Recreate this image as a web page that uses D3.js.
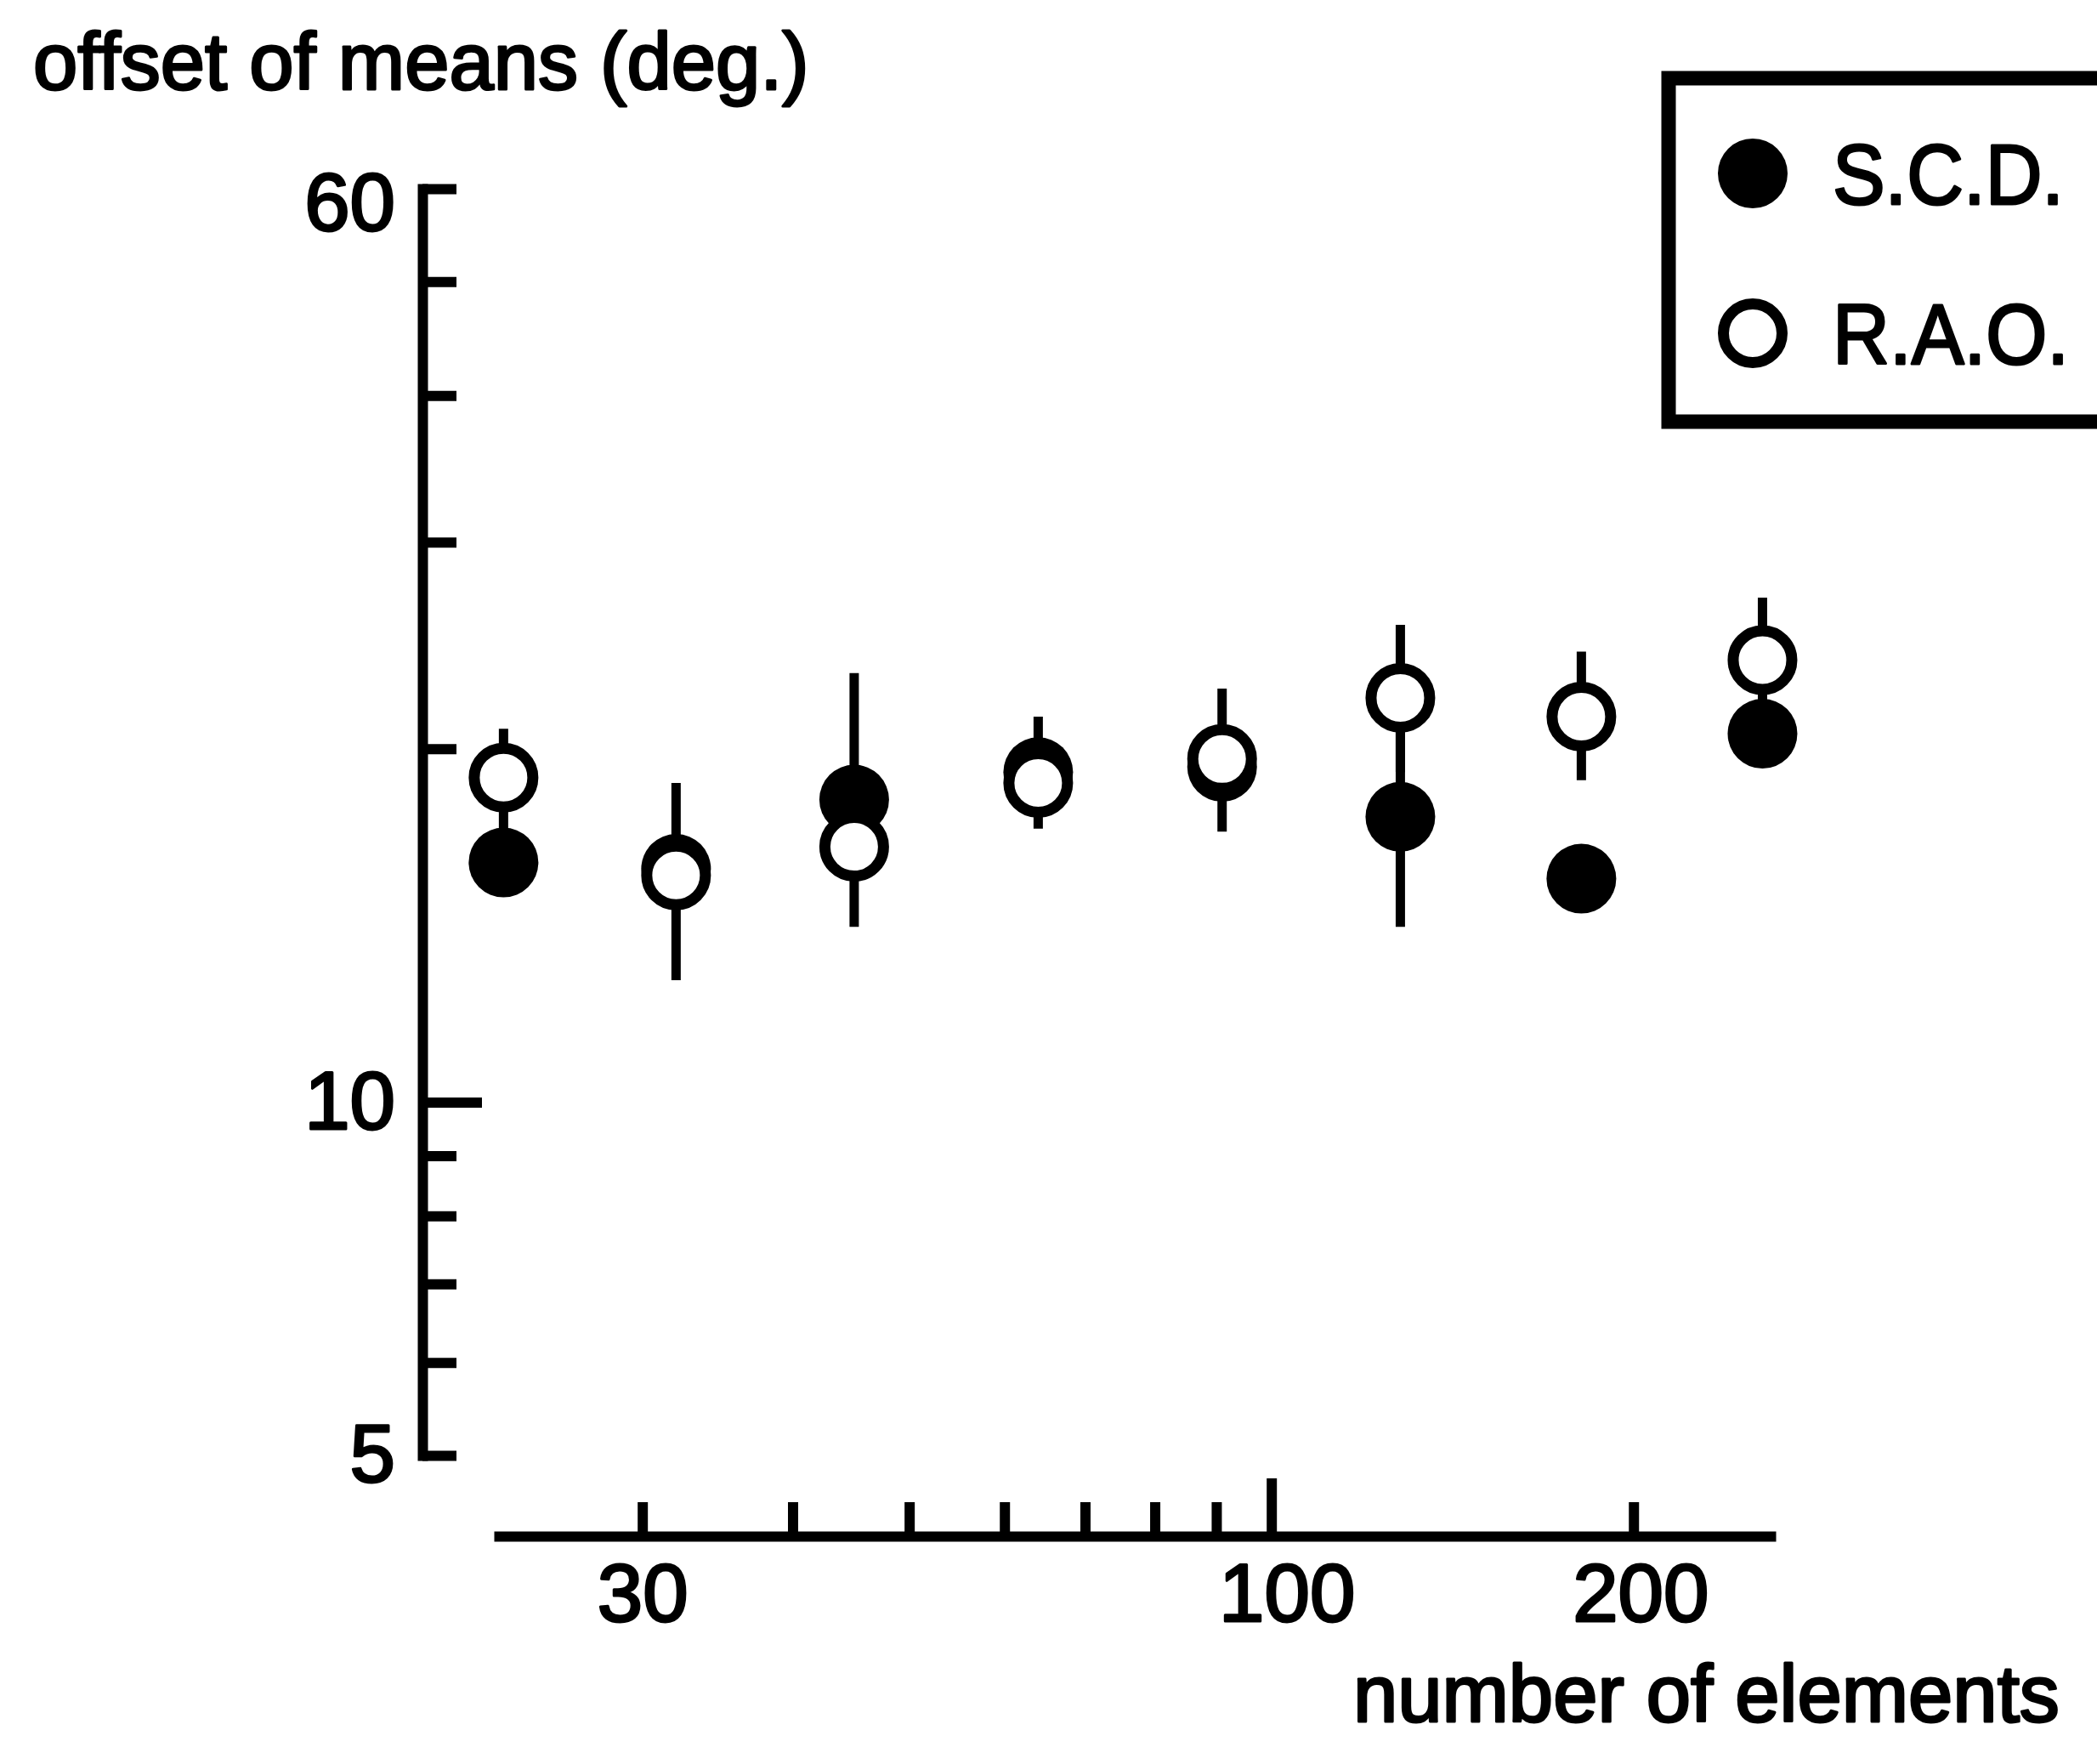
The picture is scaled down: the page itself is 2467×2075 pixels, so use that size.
<!DOCTYPE html>
<html lang="en">
<head>
    <meta charset="utf-8">
    <title>offset of means</title>
    <script src="https://d3js.org/d3.v7.min.js" charset="utf-8"></script>
    <style type="text/css">
        body { margin: 0; background: #fff; }
        svg text {
            font-family: "Liberation Sans", Arial, Helvetica, sans-serif;
            fill: #000;
            stroke: #000;
            stroke-width: 3px;
            stroke-linejoin: round;
        }
        .axis path, .axis line { stroke: #000; stroke-width: 12; }
        .axis path { stroke-linecap: square; }
        .bar { stroke: #000; stroke-width: 11; }
    </style>
</head>
<body>
    <script type="text/javascript">
    // number of elements (x) and offset of means in degrees (y)
    var elements = [23, 32, 45, 64, 91, 128, 181, 256];

    var scdMean = [16.0, 15.8, 18.1, 19.1, 19.3, 17.5, 15.5, 20.6];
    var scdLow  = [null, null, 14.1, 17.1, null, 14.1, null, null];
    var scdHigh = [null, null, 23.2, 21.3, null, 21.8, null, null];

    var raoMean = [18.9, 15.6, 16.5, 18.7, 19.6, 22.1, 21.3, 23.8];
    var raoLow  = [17.1, 12.7, null, null, 17.0, 19.1, 18.8, 21.1];
    var raoHigh = [20.8, 18.7, null, null, 22.5, 25.5, 24.2, 26.9];

    var xTicks = [30, 40, 50, 60, 70, 80, 90, 100, 200];
    var xLabels = [30, 100, 200];
    var yTicks = [5, 6, 7, 8, 9, 10, 20, 30, 40, 50, 60];
    var yLabels = [5, 10, 60];
    var majorTicks = [10, 100];

    var seriesNames = ["S.C.D.", "R.A.O."];
    var yTitle = "offset of means (deg.)";
    var xTitle = "number of elements";

    var width = 2467,
        height = 2075,
        fontSize = 96,
        titleSize = 94,
        r = 41;

    var svg = d3.select("body").append("svg")
        .attr("width", width)
        .attr("height", height);

    var x = d3.scaleLog().domain([22.8, 260]).range([587, 2083]);
    var y = d3.scaleLog().domain([5, 60]).range([1712, 222]);

    // x axis, ticks pointing up
    var xAxis = svg.append("g")
        .attr("class", "axis")
        .attr("transform", "translate(0,1807)")
        .call(d3.axisBottom(x)
            .tickValues(xTicks)
            .tickSizeInner(-40)
            .tickSizeOuter(0)
            .tickPadding(32)
            .tickFormat(function (d) { return xLabels.indexOf(d) >= 0 ? d : ""; }));
    xAxis.attr("font-size", fontSize);
    xAxis.selectAll(".tick line")
        .filter(function (d) { return majorTicks.indexOf(d) >= 0; })
        .attr("y2", -68);
    // the printed labels sit a little right of their ticks
    xAxis.selectAll(".tick text")
        .attr("dx", function (d) { return d === 100 ? 18 : (d === 200 ? 8 : 0); });

    // y axis, ticks pointing right
    var yAxis = svg.append("g")
        .attr("class", "axis")
        .attr("transform", "translate(497,0)")
        .call(d3.axisLeft(y)
            .tickValues(yTicks)
            .tickSizeInner(-40)
            .tickSizeOuter(0)
            .tickPadding(32)
            .tickFormat(function (d) { return yLabels.indexOf(d) >= 0 ? d : ""; }));
    yAxis.attr("font-size", fontSize);
    yAxis.selectAll(".tick line")
        .filter(function (d) { return majorTicks.indexOf(d) >= 0; })
        .attr("x2", 70);
    yAxis.selectAll(".tick text")
        .filter(function (d) { return d === 60; })
        .attr("dy", "0.5em");

    // error bars
    var bars = [];
    elements.forEach(function (n, i) {
        if (scdLow[i] != null) bars.push({ n: n, lo: scdLow[i], hi: scdHigh[i] });
        if (raoLow[i] != null) bars.push({ n: n, lo: raoLow[i], hi: raoHigh[i] });
    });
    svg.selectAll(".bar")
        .data(bars)
        .enter()
        .append("line")
        .attr("class", "bar")
        .attr("x1", function (d) { return x(d.n); })
        .attr("x2", function (d) { return x(d.n); })
        .attr("y1", function (d) { return y(d.hi); })
        .attr("y2", function (d) { return y(d.lo); });

    // S.C.D. filled, R.A.O. open on top
    svg.selectAll(".scd")
        .data(elements)
        .enter()
        .append("circle")
        .attr("class", "scd")
        .attr("cx", function (d) { return x(d); })
        .attr("cy", function (d, i) { return y(scdMean[i]); })
        .attr("r", r)
        .attr("fill", "#000");

    svg.selectAll(".rao")
        .data(elements)
        .enter()
        .append("circle")
        .attr("class", "rao")
        .attr("cx", function (d) { return x(d); })
        .attr("cy", function (d, i) { return y(raoMean[i]); })
        .attr("r", r - 6.5)
        .attr("fill", "#fff")
        .attr("stroke", "#000")
        .attr("stroke-width", 13);

    // axis titles
    svg.append("text")
        .attr("x", 39)
        .attr("y", 105)
        .attr("font-size", titleSize)
        .text(yTitle);

    svg.append("text")
        .attr("x", 1592)
        .attr("y", 2025)
        .attr("font-size", titleSize)
        .text(xTitle);

    // legend (box runs off the right edge)
    var legend = svg.append("g");
    legend.append("rect")
        .attr("x", 1963)
        .attr("y", 92)
        .attr("width", 700)
        .attr("height", 404)
        .attr("fill", "#fff")
        .attr("stroke", "#000")
        .attr("stroke-width", 17);

    var row = d3.scalePoint().domain(seriesNames).range([204, 392]);

    legend.selectAll(".key")
        .data(seriesNames)
        .enter()
        .append("circle")
        .attr("cx", 2062)
        .attr("cy", function (d) { return row(d); })
        .attr("r", function (d, i) { return i === 0 ? r : r - 6.5; })
        .attr("fill", function (d, i) { return i === 0 ? "#000" : "#fff"; })
        .attr("stroke", "#000")
        .attr("stroke-width", function (d, i) { return i === 0 ? 0 : 13; });

    legend.selectAll(".name")
        .data(seriesNames)
        .enter()
        .append("text")
        .attr("x", 2156)
        .attr("y", function (d) { return row(d); })
        .attr("dy", "0.36em")
        .attr("font-size", 100)
        .attr("textLength", function (d, i) { return i === 0 ? 272 : 278; })
        .attr("lengthAdjust", "spacingAndGlyphs")
        .text(function (d) { return d; });
    </script>
</body>
</html>
